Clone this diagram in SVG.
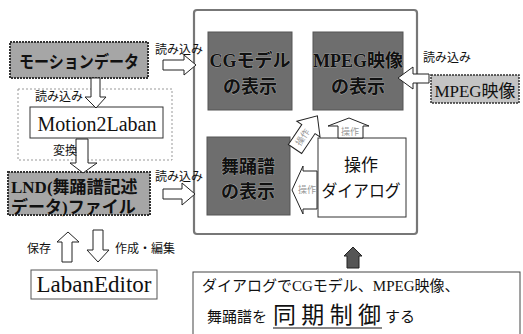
<svg xmlns="http://www.w3.org/2000/svg" width="523" height="334" viewBox="0 0 523 334">
<style>
.jp{font-family:"Noto Sans CJK JP",sans-serif;fill:#111}
.mix{font-family:"Liberation Serif","Noto Sans CJK JP",serif;fill:#111}
.lbl{font-size:12px}
.ha{fill:#fff;stroke:#222;stroke-width:1}
.gbox{stroke:#333;stroke-width:2;stroke-dasharray:2 1}
.dark{fill:#6e6e6e;stroke:#555;stroke-width:1}
.bt{font-weight:bold;font-size:18px;text-anchor:middle;stroke:#bbb;stroke-width:0.6;paint-order:stroke}
.op{font-family:"Noto Sans CJK JP",sans-serif;font-size:9px;fill:#999;text-anchor:middle}
</style>
<rect width="523" height="334" fill="#fff"/>
<g id="frame"><rect x="194" y="10" width="223" height="224" rx="3" fill="#fff" stroke="#777" stroke-width="2.2"/></g>
<g id="motion-data">
<rect class="gbox" x="10" y="42" width="138" height="36" fill="#a6a6a6"/>
<text class="jp" x="79" y="68" font-size="17" font-weight="bold" text-anchor="middle" textLength="120" lengthAdjust="spacingAndGlyphs">モーションデータ</text>
</g>
<g id="container"><rect x="18" y="89" width="154" height="71" fill="none" stroke="#999" stroke-width="1" stroke-dasharray="2 2"/></g>
<g id="motion2laban">
<rect x="30" y="107" width="133" height="31" fill="#fff" stroke="#333" stroke-width="1"/>
<text class="mix" x="97" y="131" font-size="20" text-anchor="middle">Motion2Laban</text>
</g>
<g id="lnd">
<rect class="gbox" x="8" y="172" width="142" height="43" fill="#a6a6a6"/>
<text class="mix" x="11" y="193" font-size="17" font-weight="bold">LND(舞踊譜記述</text>
<text class="mix" x="11" y="213" font-size="17" font-weight="bold">データ)ファイル</text>
</g>
<g id="labaneditor">
<rect x="31" y="270" width="126" height="29" fill="#fff" stroke="#555" stroke-width="1"/>
<text class="mix" x="94" y="292" font-size="23" text-anchor="middle">LabanEditor</text>
</g>
<g id="cg-display">
<rect class="dark" x="208" y="32" width="84" height="78"/>
<text class="mix bt" x="250" y="67">CGモデル</text>
<text class="mix bt" x="250" y="93">の表示</text>
</g>
<g id="mpeg-display">
<rect class="dark" x="313" y="32" width="90" height="78"/>
<text class="mix bt" x="358" y="67">MPEG映像</text>
<text class="mix bt" x="358" y="93">の表示</text>
</g>
<g id="score-display">
<rect class="dark" x="207" y="137" width="83" height="78"/>
<text class="mix bt" x="248" y="173">舞踊譜</text>
<text class="mix bt" x="248" y="198">の表示</text>
</g>
<g id="dialog">
<rect x="318" y="138" width="88" height="79" fill="#fff" stroke="#333" stroke-width="1"/>
<text class="jp" x="361" y="171" font-size="17" text-anchor="middle">操作</text>
<text class="jp" x="361" y="197" font-size="17" text-anchor="middle" textLength="79" lengthAdjust="spacingAndGlyphs">ダイアログ</text>
</g>
<g id="mpeg-source">
<rect x="431" y="75" width="88" height="28" fill="#c4c4c4" stroke="#333" stroke-width="1.5" stroke-dasharray="2 1"/>
<text class="mix" x="475" y="97" font-size="17" text-anchor="middle">MPEG映像</text>
</g>
<g id="note">
<rect x="193" y="272" width="327" height="70" fill="#fff" stroke="#444" stroke-width="1"/>
<text class="mix" x="202" y="291" font-size="15">ダイアログでCGモデル、MPEG映像、</text>
<text class="jp" x="207" y="322" font-size="15">舞踊譜を</text>
<text class="jp" x="273" y="323" font-size="23" textLength="108" lengthAdjust="spacing">同期制御</text>
<line x1="273" y1="328" x2="382" y2="328" stroke="#111" stroke-width="1.2"/>
<text class="jp" x="385" y="322" font-size="15">する</text>
</g>
<g id="connectors">
<polygon class="ha" points="163,60 184,60 184,55 196,65 184,75 184,70 163,70"/>
<text class="jp lbl" x="155" y="54">読み込み</text>
<polygon class="ha" points="163,189 182,189 182,183 195,194 182,205 182,199 163,199"/>
<text class="jp lbl" x="155" y="181">読み込み</text>
<polygon class="ha" points="91,78 100,78 100,97 106,97 96,108 85,97 91,97"/>
<text class="jp lbl" x="35" y="101">読み込み</text>
<polygon class="ha" points="76,139 88,139 88,163 97,163 83,173 70,163 76,163"/>
<text class="jp lbl" x="53" y="155">変換</text>
<polygon class="ha" points="62,262 72,262 72,242 79,242 68,232 57,242 62,242"/>
<text class="jp lbl" x="27" y="253">保存</text>
<polygon class="ha" points="93,230 103,230 103,250 109,250 98,262 87,250 93,250"/>
<text class="jp lbl" x="115" y="253">作成・編集</text>
<polygon class="ha" points="429,74 413,74 413,67 398,78 413,89 413,83 429,83"/>
<text class="jp lbl" x="423" y="62">読み込み</text>
<polygon class="ha" points="338,138 338,126 328,126 349,118 369,126 363,126 363,138"/>
<text class="op" x="350" y="135">操作</text>
<polygon class="ha" points="317,171 303,171 303,166 292,190 303,214 303,209 317,209"/>
<text class="op" x="307" y="193">操作</text>
<g transform="translate(295,149) rotate(-56)">
<polygon class="ha" points="0,-8 24,-8 24,-14 40,0 24,14 24,8 0,8"/>
<text class="op" x="14" y="3">操作</text>
</g>
<polygon points="347,268 359,268 359,256 362,256 353,247 344,256 347,256" fill="#555" stroke="#222" stroke-width="1"/>
</g>
</svg>
